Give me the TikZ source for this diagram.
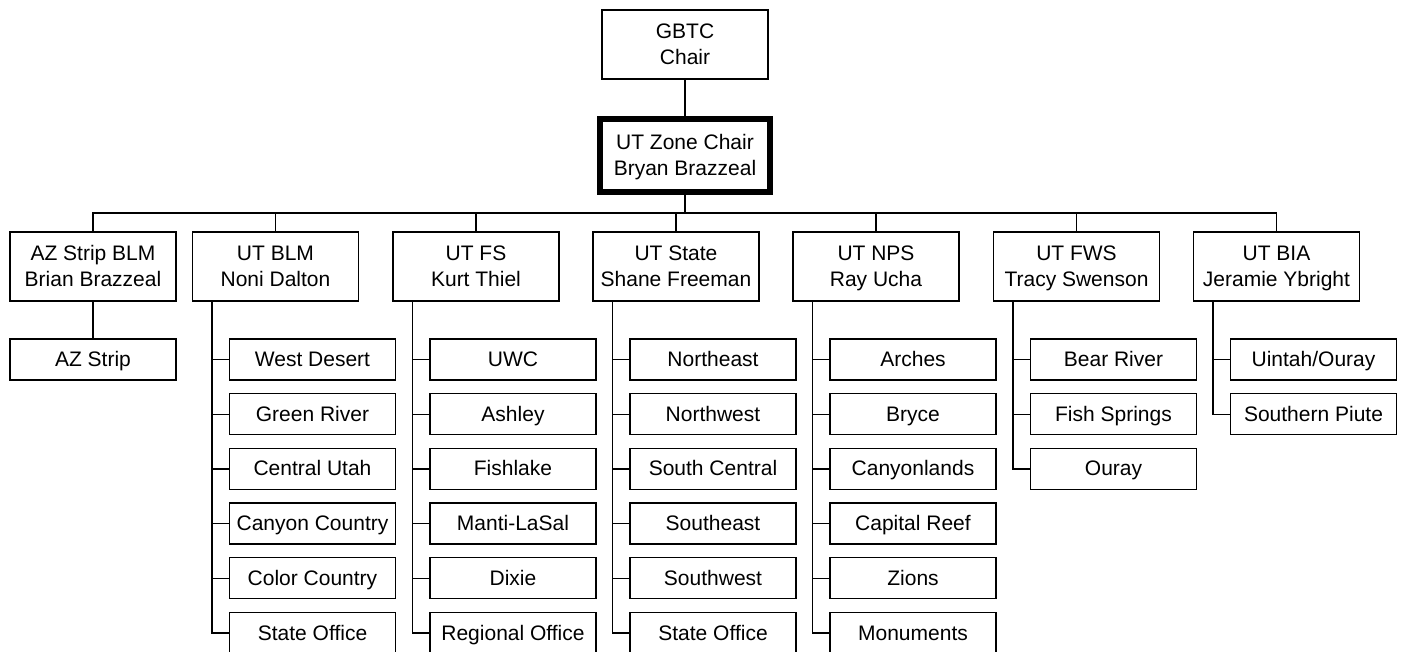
\documentclass[tikz,border=0pt]{standalone}
\usepackage{fontspec}
\setmainfont{Liberation Sans}
\begin{document}
\begin{tikzpicture}[x=1pt, y=-1pt, line width=1.3pt, node distance=54.7pt,
  every node/.style={font=\fontsize{21}{26}\selectfont, align=center, inner sep=0pt},
  head/.style={draw, minimum width=166pt, minimum height=69pt, text depth=1pt},
  chair/.style={draw, line width=5.5pt, minimum width=170pt, minimum height=73pt, text depth=1pt},
  unit/.style={draw, minimum width=166pt, minimum height=41pt, text height=15pt, text depth=1pt}]

\useasboundingbox (0,0) rectangle (1406,652);

% top of the chart
\node[head] (gbtc) at (685,44.5) {GBTC\\Chair};
\node[chair] (zone) at (685,155.5) {UT Zone Chair\\Bryan Brazzeal};

% agencies
\node[head] (az) at (93,266.5) {AZ Strip BLM\\Brian Brazzeal};
\node[head] (blm) at (275.5,266.5) {UT BLM\\Noni Dalton};
\node[head] (fs) at (476,266.5) {UT FS\\Kurt Thiel};
\node[head] (state) at (676,266.5) {UT State\\Shane Freeman};
\node[head] (nps) at (876,266.5) {UT NPS\\Ray Ucha};
\node[head] (fws) at (1076.5,266.5) {UT FWS\\Tracy Swenson};
\node[head] (bia) at (1276.5,266.5) {UT BIA\\Jeramie Ybright};

% units
\node[unit] (az1) at (93,359.5) {AZ Strip};

\node[unit] (blm1) at (312.5,359.5) {West Desert};
\node[unit] (blm2) [below of=blm1] {Green River};
\node[unit] (blm3) [below of=blm2] {Central Utah};
\node[unit] (blm4) [below of=blm3] {Canyon Country};
\node[unit] (blm5) [below of=blm4] {Color Country};
\node[unit] (blm6) [below of=blm5] {State Office};

\node[unit] (fs1) at (513,359.5) {UWC};
\node[unit] (fs2) [below of=fs1] {Ashley};
\node[unit] (fs3) [below of=fs2] {Fishlake};
\node[unit] (fs4) [below of=fs3] {Manti-LaSal};
\node[unit] (fs5) [below of=fs4] {Dixie};
\node[unit] (fs6) [below of=fs5] {Regional Office};

\node[unit] (state1) at (713,359.5) {Northeast};
\node[unit] (state2) [below of=state1] {Northwest};
\node[unit] (state3) [below of=state2] {South Central};
\node[unit] (state4) [below of=state3] {Southeast};
\node[unit] (state5) [below of=state4] {Southwest};
\node[unit] (state6) [below of=state5] {State Office};

\node[unit] (nps1) at (913,359.5) {Arches};
\node[unit] (nps2) [below of=nps1] {Bryce};
\node[unit] (nps3) [below of=nps2] {Canyonlands};
\node[unit] (nps4) [below of=nps3] {Capital Reef};
\node[unit] (nps5) [below of=nps4] {Zions};
\node[unit] (nps6) [below of=nps5] {Monuments};

\node[unit] (fws1) at (1113.5,359.5) {Bear River};
\node[unit] (fws2) [below of=fws1] {Fish Springs};
\node[unit] (fws3) [below of=fws2] {Ouray};

\node[unit] (bia1) at (1313.5,359.5) {Uintah/Ouray};
\node[unit] (bia2) [below of=bia1] {Southern Piute};

% lines
\coordinate (bus) at (685,213);
\draw (gbtc) -- (zone);
\draw (zone) -- (bus);
\draw (az.north) |- (bus) -| (bia.north);
\foreach \p in {blm,fs,state,nps,fws}
  \draw (\p.north) -- (\p.north |- bus);
\draw (az) -- (az1);

\foreach \p/\n in {blm/6,fs/6,state/6,nps/6,fws/3,bia/2} {
  \draw ([xshift=20pt]\p.south west) |- (\p\n.west);
  \foreach \i in {1,...,\n}
    \draw (\p\i.west) -- ([xshift=20pt]\p.south west |- \p\i.west);
}

\end{tikzpicture}
\end{document}
